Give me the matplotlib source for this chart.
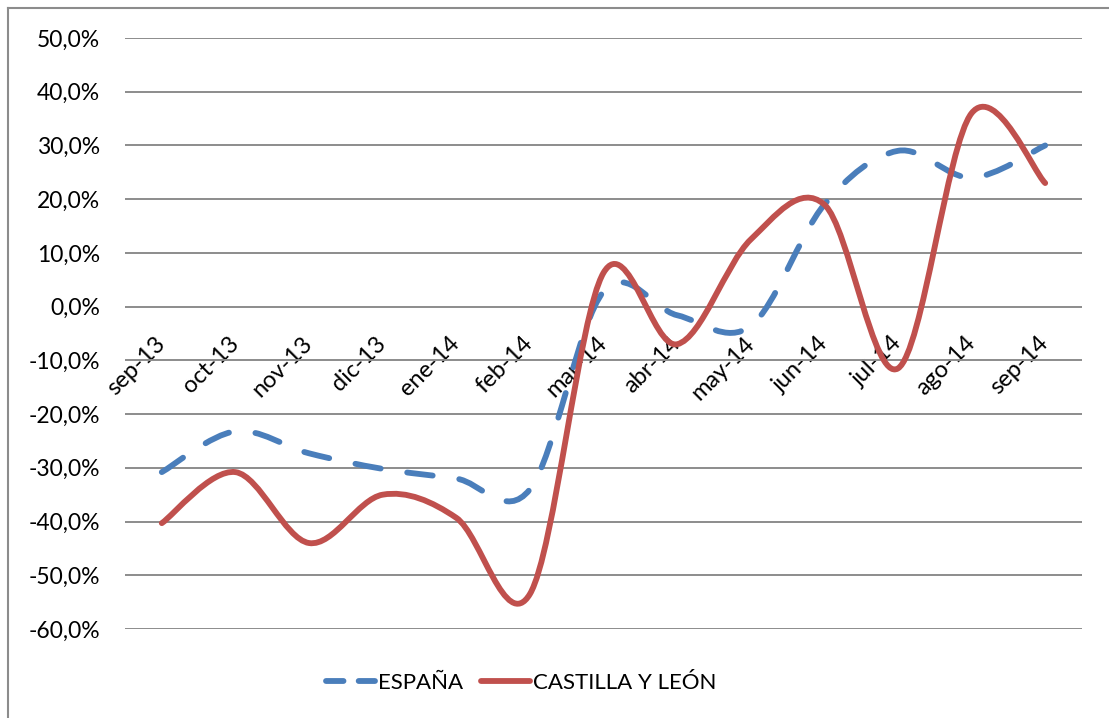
import numpy as np
import matplotlib
matplotlib.use("Agg")
import matplotlib.pyplot as plt
from matplotlib.path import Path
from matplotlib.patches import PathPatch
from matplotlib.lines import Line2D
from matplotlib.ticker import FuncFormatter, MultipleLocator

# datos (tasa de variación)
meses = ['sep-13', 'oct-13', 'nov-13', 'dic-13', 'ene-14', 'feb-14', 'mar-14',
         'abr-14', 'may-14', 'jun-14', 'jul-14', 'ago-14', 'sep-14']
espana = [-30.8, -23.2, -27.3, -30.2, -32.0, -34.0, 2.8,
          -1.6, -3.6, 19.0, 29.0, 24.0, 30.0]
castilla = [-40.3, -30.8, -44.0, -35.0, -39.3, -53.5, 6.3,
            -7.0, 12.5, 19.0, -11.5, 36.0, 23.0]

plt.rcParams['font.family'] = ['Lato', 'DejaVu Sans']

AZUL = '#4A7EBB'
ROJO = '#C0504D'


def curva_suave(xs, ys):
    # bezier tipo Catmull-Rom, como la "línea suavizada" de Excel
    pts = np.column_stack([xs, ys])
    verts = [pts[0]]
    codes = [Path.MOVETO]
    n = len(pts)
    for i in range(n - 1):
        p0 = pts[i - 1] if i > 0 else pts[i]
        p1 = pts[i]
        p2 = pts[i + 1]
        p3 = pts[i + 2] if i + 2 < n else pts[i + 1]
        c1 = p1 + (p2 - p0) / 6
        c2 = p2 - (p3 - p1) / 6
        verts += [c1, c2, p2]
        codes += [Path.CURVE4] * 3
    return Path(verts, codes)


fig = plt.figure(figsize=(11.09, 7.18), dpi=100)
ax = fig.add_axes([125 / 1109, 1 - 629 / 718, (1082 - 125) / 1109, (629 - 38) / 718])

x = np.arange(len(meses))
y_esp = np.array(espana) / 100
y_cyl = np.array(castilla) / 100

ax.add_patch(PathPatch(curva_suave(x, y_esp), fill=False, edgecolor=AZUL, lw=4.2,
                       linestyle=(0, (4.4, 4.6)), capstyle='round', zorder=3))
ax.add_patch(PathPatch(curva_suave(x, y_cyl), fill=False, edgecolor=ROJO, lw=4.2,
                       capstyle='round', joinstyle='round', zorder=4))

ax.set_xlim(-0.5, len(meses) - 0.5)
ax.set_ylim(-0.6, 0.5)
ax.yaxis.set_major_locator(MultipleLocator(0.1))
ax.yaxis.set_major_formatter(FuncFormatter(lambda v, p: f"{v * 100:.1f}%".replace('.', ',')))
ax.grid(axis='y', color='#8C8C8C', lw=1.4)
ax.set_axisbelow(True)

for s in ['top', 'right', 'left']:
    ax.spines[s].set_visible(False)
ax.spines['bottom'].set_position(('data', 0))
ax.spines['bottom'].set_visible(False)

ax.set_xticks(x)
ax.set_xticklabels(meses, rotation=45, ha='right', va='center', rotation_mode='anchor')
ax.tick_params(axis='x', length=0, pad=24, labelsize=17)
ax.tick_params(axis='y', length=0, pad=18, labelsize=16.5)

# borde del gráfico
fig.add_artist(Line2D([8 / 1109, 8 / 1109], [0, 1 - 8 / 718], color='#8C8C8C', lw=1.5))
fig.add_artist(Line2D([8 / 1109, 1], [1 - 8 / 718, 1 - 8 / 718], color='#8C8C8C', lw=1.5))

# leyenda
h1 = Line2D([], [], color=AZUL, lw=4.2, linestyle=(0, (3.0, 2.6)), dash_capstyle='round')
h2 = Line2D([], [], color=ROJO, lw=4.2, solid_capstyle='round')
fig.legend([h1, h2], ['ESPAÑA', 'CASTILLA Y LEÓN'], loc='center left',
           bbox_to_anchor=(306 / 1109, 1 - 683 / 718), ncol=2, frameon=False,
           fontsize=16, handlelength=2.2, handletextpad=0.15, columnspacing=0.8)

fig.savefig('out.png', dpi=100)
